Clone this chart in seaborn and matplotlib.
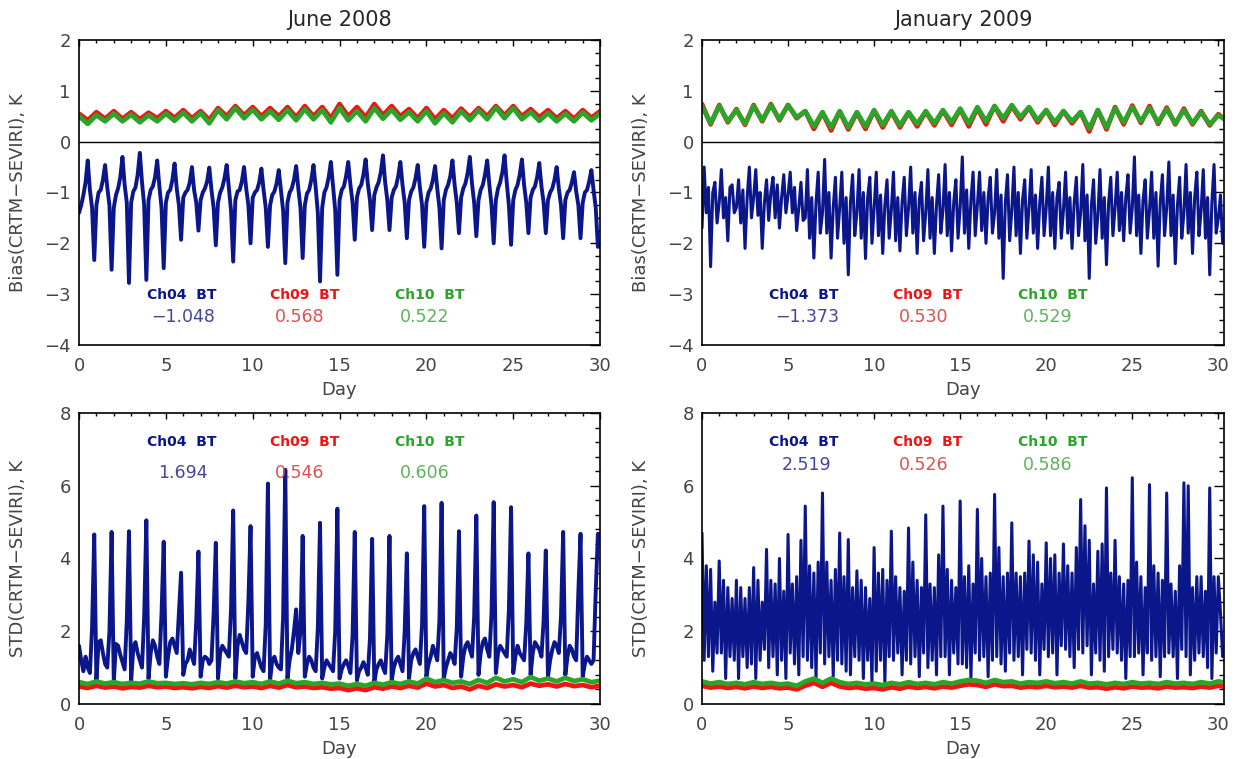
import numpy as np
import matplotlib
matplotlib.use("Agg")
import matplotlib.pyplot as plt
from matplotlib.ticker import MultipleLocator
import seaborn as sns

# Ch04 read every 3 h, Ch09/Ch10 every 12 h (values estimated from the figure)
ch04_step = 0.125
ch0910_step = 0.5

months = ["June 2008", "January 2009"]
channels = ["Ch04  BT", "Ch09  BT", "Ch10  BT"]
jun_bias_mean = ["\u22121.048", "0.568", "0.522"]
jan_bias_mean = ["\u22121.373", "0.530", "0.529"]
jun_std_mean = ["1.694", "0.546", "0.606"]
jan_std_mean = ["2.519", "0.526", "0.586"]

jun_bias_ch04 = [
    -1.40, -1.25, -1.05, -0.80, -0.37, -0.95, -1.30, -2.33,
    -1.25, -1.00, -0.95, -0.75, -0.46, -0.90, -1.25, -2.52,
    -1.30, -1.05, -0.92, -0.70, -0.30, -0.85, -1.20, -2.78,
    -1.20, -0.98, -0.90, -0.65, -0.22, -0.80, -1.25, -2.72,
    -1.15, -0.95, -0.88, -0.70, -0.37, -0.88, -1.30, -2.49,
    -1.20, -1.00, -0.95, -0.75, -0.43, -0.92, -1.25, -1.93,
    -1.10, -1.00, -0.95, -0.80, -0.50, -0.95, -1.20, -1.75,
    -1.15, -1.00, -0.92, -0.78, -0.51, -0.95, -1.30, -2.04,
    -1.20, -1.00, -0.90, -0.72, -0.46, -0.90, -1.35, -2.36,
    -1.15, -0.98, -0.95, -0.78, -0.50, -0.92, -1.25, -2.00,
    -1.10, -1.00, -0.95, -0.80, -0.53, -0.95, -1.30, -2.07,
    -1.25, -1.05, -0.98, -0.82, -0.56, -0.95, -1.35, -2.39,
    -1.20, -1.00, -0.92, -0.75, -0.48, -0.92, -1.30, -2.29,
    -1.25, -1.02, -0.95, -0.75, -0.46, -0.90, -1.40, -2.75,
    -1.30, -1.00, -0.90, -0.70, -0.40, -0.88, -1.35, -2.62,
    -1.15, -0.95, -0.88, -0.68, -0.40, -0.85, -1.20, -1.93,
    -1.10, -0.92, -0.85, -0.65, -0.35, -0.82, -1.15, -1.74,
    -1.05, -0.90, -0.80, -0.60, -0.27, -0.80, -1.15, -1.74,
    -1.10, -0.95, -0.88, -0.68, -0.40, -0.85, -1.20, -1.90,
    -1.15, -0.98, -0.90, -0.72, -0.46, -0.90, -1.25, -2.07,
    -1.20, -1.00, -0.92, -0.75, -0.48, -0.92, -1.30, -2.10,
    -1.15, -0.95, -0.85, -0.68, -0.37, -0.85, -1.20, -1.80,
    -1.10, -0.92, -0.82, -0.62, -0.30, -0.82, -1.20, -1.86,
    -1.15, -0.95, -0.85, -0.65, -0.37, -0.85, -1.25, -2.00,
    -1.15, -0.92, -0.80, -0.60, -0.27, -0.80, -1.25, -2.03,
    -1.15, -0.95, -0.85, -0.65, -0.35, -0.85, -1.20, -1.80,
    -1.10, -0.95, -0.88, -0.70, -0.42, -0.88, -1.20, -1.80,
    -1.15, -1.00, -0.92, -0.75, -0.50, -0.92, -1.25, -1.90,
    -1.15, -1.00, -0.95, -0.80, -0.60, -0.98, -1.25, -1.90,
    -1.20, -1.00, -0.95, -0.78, -0.56, -0.95, -1.30, -2.07,
    -2.05,
]
jun_bias_ch09 = [
    0.55, 0.42, 0.58, 0.45, 0.60, 0.45, 0.58, 0.44, 0.57, 0.46,
    0.60, 0.47, 0.62, 0.46, 0.60, 0.43, 0.66, 0.50, 0.70, 0.52,
    0.68, 0.50, 0.66, 0.50, 0.68, 0.48, 0.70, 0.50, 0.68, 0.46,
    0.74, 0.50, 0.68, 0.48, 0.74, 0.52, 0.70, 0.50, 0.64, 0.46,
    0.66, 0.44, 0.62, 0.46, 0.65, 0.48, 0.66, 0.50, 0.70, 0.52,
    0.70, 0.50, 0.64, 0.48, 0.62, 0.46, 0.60, 0.45, 0.62, 0.47,
    0.60,
]
jun_bias_ch10 = [
    0.50, 0.35, 0.52, 0.40, 0.55, 0.40, 0.53, 0.38, 0.52, 0.40,
    0.55, 0.41, 0.57, 0.40, 0.56, 0.36, 0.62, 0.44, 0.66, 0.46,
    0.63, 0.44, 0.60, 0.43, 0.62, 0.42, 0.64, 0.44, 0.62, 0.38,
    0.66, 0.42, 0.60, 0.40, 0.66, 0.45, 0.63, 0.43, 0.58, 0.40,
    0.60, 0.36, 0.56, 0.38, 0.60, 0.42, 0.62, 0.44, 0.67, 0.46,
    0.66, 0.44, 0.58, 0.41, 0.56, 0.40, 0.55, 0.40, 0.57, 0.42,
    0.55,
]

jan_bias_ch04 = [
    -1.70, -0.50, -1.40, -0.90, -2.46, -1.00, -0.80, -1.60,
    -1.20, -0.55, -1.50, -1.10, -1.95, -0.90, -0.85, -1.40,
    -1.30, -0.75, -1.60, -0.95, -2.10, -1.10, -0.50, -1.50,
    -1.10, -0.55, -1.45, -1.00, -2.10, -1.20, -0.75, -1.55,
    -1.00, -0.70, -1.50, -0.85, -1.70, -1.10, -0.65, -1.40,
    -1.05, -0.60, -1.40, -0.90, -1.75, -1.30, -0.80, -1.55,
    -1.50, -0.55, -1.90, -1.10, -2.29, -1.20, -0.60, -1.80,
    -1.40, -0.35, -1.80, -1.00, -2.29, -1.30, -0.70, -1.90,
    -1.30, -0.60, -2.00, -1.10, -2.62, -1.20, -0.65, -1.85,
    -1.40, -0.55, -1.90, -1.00, -2.30, -1.10, -0.70, -2.00,
    -1.30, -0.60, -1.85, -1.05, -2.20, -1.25, -0.75, -1.90,
    -1.35, -0.60, -1.95, -1.10, -2.15, -1.20, -0.70, -1.85,
    -1.30, -0.50, -1.80, -1.00, -2.20, -1.15, -0.80, -1.95,
    -1.40, -0.55, -1.90, -1.10, -2.20, -1.25, -0.65, -1.80,
    -1.35, -0.45, -1.85, -1.00, -2.15, -1.20, -0.75, -1.90,
    -1.30, -0.30, -1.80, -0.95, -2.10, -1.15, -0.60, -1.85,
    -1.25, -0.60, -1.75, -1.00, -2.00, -1.10, -0.70, -1.80,
    -1.40, -0.55, -1.90, -1.05, -2.69, -1.20, -0.65, -1.95,
    -1.35, -0.50, -1.85, -1.00, -2.20, -1.15, -0.75, -1.90,
    -1.30, -0.55, -1.80, -1.05, -2.10, -1.20, -0.70, -1.85,
    -1.30, -0.50, -1.85, -1.00, -2.10, -1.10, -0.80, -1.90,
    -1.35, -0.60, -1.80, -1.10, -2.10, -1.20, -0.70, -1.85,
    -1.40, -0.45, -1.95, -1.05, -2.69, -1.25, -0.75, -2.00,
    -1.45, -0.55, -1.90, -1.10, -2.42, -1.20, -0.70, -1.85,
    -1.30, -0.60, -1.75, -1.00, -1.95, -1.10, -0.65, -1.80,
    -1.30, -0.30, -1.85, -1.05, -2.20, -1.15, -0.75, -1.90,
    -1.35, -0.60, -1.90, -1.00, -2.45, -1.20, -0.65, -1.85,
    -1.30, -0.40, -1.85, -1.05, -2.40, -1.25, -0.70, -1.90,
    -1.40, -0.45, -1.80, -1.00, -2.20, -1.10, -0.60, -1.85,
    -1.35, -0.55, -1.90, -1.10, -2.62, -1.20, -0.45, -1.80,
    -1.50, -1.05, -2.00,
]
jan_bias_ch09 = [
    0.74, 0.34, 0.72, 0.38, 0.64, 0.33, 0.72, 0.40, 0.74, 0.42,
    0.72, 0.46, 0.60, 0.25, 0.57, 0.22, 0.59, 0.24, 0.57, 0.25,
    0.61, 0.28, 0.59, 0.28, 0.57, 0.30, 0.59, 0.32, 0.61, 0.33,
    0.64, 0.30, 0.66, 0.34, 0.70, 0.40, 0.70, 0.44, 0.67, 0.38,
    0.62, 0.33, 0.60, 0.36, 0.58, 0.20, 0.62, 0.24, 0.68, 0.34,
    0.71, 0.37, 0.70, 0.35, 0.67, 0.34, 0.65, 0.34, 0.60, 0.32,
    0.54, 0.40,
]
jan_bias_ch10 = [
    0.70, 0.36, 0.70, 0.40, 0.62, 0.35, 0.70, 0.42, 0.72, 0.44,
    0.72, 0.48, 0.60, 0.30, 0.58, 0.28, 0.60, 0.28, 0.58, 0.30,
    0.62, 0.33, 0.60, 0.32, 0.58, 0.35, 0.60, 0.36, 0.62, 0.38,
    0.65, 0.36, 0.68, 0.40, 0.70, 0.46, 0.72, 0.48, 0.68, 0.42,
    0.62, 0.38, 0.60, 0.40, 0.58, 0.26, 0.62, 0.28, 0.66, 0.38,
    0.68, 0.40, 0.66, 0.38, 0.64, 0.36, 0.62, 0.36, 0.58, 0.34,
    0.52, 0.42,
]

jun_std_ch04 = [
    1.60, 1.20, 0.90, 1.30, 1.00, 0.85, 2.10, 4.66,
    0.65, 1.70, 1.75, 1.40, 1.10, 1.00, 2.00, 4.73,
    0.60, 1.65, 1.60, 1.35, 1.15, 0.95, 2.30, 4.75,
    0.62, 1.55, 1.70, 1.40, 1.20, 1.00, 2.40, 5.05,
    0.70, 1.40, 1.75, 1.60, 1.30, 1.10, 2.50, 4.46,
    0.75, 1.30, 1.70, 1.80, 1.60, 1.40, 2.50, 3.61,
    0.80, 1.10, 1.20, 1.50, 1.30, 1.10, 2.30, 4.19,
    0.75, 1.20, 1.30, 1.25, 1.10, 1.20, 2.50, 4.43,
    0.70, 1.40, 1.60, 1.50, 1.40, 1.30, 2.60, 5.32,
    0.70, 1.60, 1.90, 1.70, 1.50, 1.40, 2.80, 4.89,
    0.75, 1.30, 1.40, 1.20, 1.00, 0.90, 2.20, 6.06,
    0.65, 1.20, 1.30, 1.10, 1.00, 0.95, 2.40, 6.44,
    0.70, 1.20, 1.50, 2.00, 2.60, 1.40, 2.00, 4.62,
    0.75, 1.10, 1.30, 1.20, 1.00, 0.90, 2.10, 4.98,
    0.70, 1.00, 1.20, 1.10, 1.00, 0.90, 2.00, 5.37,
    0.70, 0.95, 1.10, 1.20, 1.05, 0.85, 1.90, 4.73,
    0.65, 0.90, 1.00, 1.15, 1.00, 0.80, 1.80, 4.54,
    0.60, 0.95, 1.10, 1.20, 1.00, 0.85, 1.90, 4.62,
    0.65, 1.00, 1.20, 1.30, 1.10, 0.90, 2.00, 4.14,
    0.70, 1.20, 1.40, 1.50, 1.30, 1.10, 2.20, 5.44,
    0.75, 1.10, 1.30, 1.60, 1.40, 1.20, 2.30, 5.53,
    0.70, 1.00, 1.20, 1.40, 1.30, 1.10, 2.10, 4.75,
    0.75, 1.30, 1.60, 1.70, 1.50, 1.30, 2.40, 5.18,
    0.80, 1.40, 1.70, 1.80, 1.50, 1.30, 2.50, 5.55,
    0.85, 1.40, 1.60, 1.50, 1.40, 1.30, 2.60, 5.41,
    0.85, 1.30, 1.60, 1.40, 1.30, 1.20, 2.20, 4.14,
    0.80, 1.40, 1.70, 1.60, 1.50, 1.30, 2.30, 4.22,
    0.75, 1.20, 1.50, 1.70, 1.60, 1.40, 2.40, 4.73,
    0.80, 1.30, 1.60, 1.50, 1.30, 1.20, 3.10, 4.68,
    0.75, 1.10, 1.30, 1.20, 1.10, 1.20, 3.10, 4.68,
    4.65,
]
jun_std_ch09 = [
    0.48, 0.44, 0.50, 0.45, 0.48, 0.43, 0.47, 0.45, 0.50, 0.46,
    0.48, 0.44, 0.46, 0.43, 0.47, 0.44, 0.49, 0.45, 0.50, 0.46,
    0.48, 0.44, 0.50, 0.45, 0.52, 0.46, 0.48, 0.44, 0.46, 0.42,
    0.44, 0.38, 0.43, 0.38, 0.46, 0.42, 0.48, 0.44, 0.50, 0.45,
    0.56, 0.48, 0.52, 0.44, 0.48, 0.40, 0.50, 0.44, 0.54, 0.48,
    0.52, 0.46, 0.56, 0.50, 0.54, 0.48, 0.55, 0.49, 0.52, 0.46,
    0.50,
]
jun_std_ch10 = [
    0.60, 0.55, 0.62, 0.56, 0.60, 0.55, 0.58, 0.56, 0.62, 0.57,
    0.58, 0.55, 0.57, 0.54, 0.58, 0.55, 0.60, 0.56, 0.62, 0.57,
    0.60, 0.55, 0.62, 0.56, 0.64, 0.57, 0.60, 0.55, 0.58, 0.54,
    0.56, 0.50, 0.55, 0.50, 0.58, 0.53, 0.60, 0.55, 0.62, 0.56,
    0.70, 0.60, 0.66, 0.58, 0.62, 0.55, 0.66, 0.58, 0.72, 0.62,
    0.68, 0.60, 0.74, 0.64, 0.70, 0.62, 0.72, 0.63, 0.68, 0.60,
    0.64,
]

jan_std_ch04 = [
    4.70, 1.20, 3.80, 1.30, 3.70, 0.90, 2.80, 1.40,
    3.93, 1.40, 3.40, 0.70, 3.20, 1.30, 2.90, 1.20,
    3.40, 0.70, 3.20, 1.30, 2.90, 1.00, 3.20, 1.10,
    3.75, 0.70, 3.40, 1.20, 2.80, 1.50, 4.25, 1.00,
    3.40, 1.30, 3.30, 0.80, 4.00, 1.20, 3.10, 0.70,
    4.66, 1.40, 3.30, 1.10, 3.50, 0.80, 4.50, 1.30,
    5.44, 1.20, 3.80, 1.00, 3.60, 0.70, 3.90, 1.40,
    5.80, 1.10, 3.90, 1.30, 3.40, 0.75, 3.70, 1.20,
    4.70, 1.10, 3.50, 0.90, 4.52, 0.80, 3.20, 1.30,
    3.66, 1.20, 3.40, 0.70, 3.20, 1.20, 2.90, 0.60,
    4.30, 0.90, 3.60, 1.20, 3.70, 0.60, 3.40, 1.30,
    4.75, 1.20, 3.50, 1.40, 3.20, 0.80, 3.10, 1.20,
    4.84, 1.10, 3.90, 1.30, 3.40, 0.75, 3.20, 1.40,
    5.20, 1.00, 3.30, 1.20, 3.20, 0.80, 4.10, 1.30,
    5.44, 1.30, 3.70, 0.80, 3.40, 1.40, 3.20, 1.10,
    5.58, 1.10, 3.50, 1.00, 3.80, 0.70, 3.30, 1.40,
    5.35, 1.20, 4.00, 1.30, 3.50, 0.75, 3.60, 1.20,
    5.76, 1.30, 4.30, 1.10, 3.50, 0.90, 3.60, 1.40,
    4.98, 1.20, 3.60, 1.30, 3.50, 0.80, 3.60, 1.50,
    4.48, 1.40, 4.10, 1.20, 3.90, 0.80, 3.30, 1.50,
    4.43, 1.30, 4.00, 1.40, 4.10, 0.80, 3.60, 1.60,
    4.40, 1.50, 3.80, 1.30, 3.60, 1.00, 4.30, 1.50,
    5.62, 1.40, 4.90, 1.60, 4.50, 0.80, 3.30, 1.40,
    4.20, 1.20, 4.40, 0.90, 5.94, 1.30, 3.60, 1.50,
    4.50, 1.40, 3.50, 1.20, 3.30, 0.70, 3.40, 1.30,
    6.22, 1.30, 3.90, 1.40, 3.50, 0.80, 3.20, 1.40,
    6.03, 1.20, 3.80, 1.30, 3.60, 0.75, 3.40, 1.30,
    5.80, 1.40, 3.30, 1.30, 3.10, 0.70, 3.80, 1.50,
    6.08, 1.30, 6.00, 0.80, 3.20, 1.20, 3.50, 1.40,
    3.50, 1.30, 3.10, 1.00, 5.94, 0.70, 3.50, 1.40,
    3.50, 2.50, 1.30,
]
jan_std_ch09 = [
    0.50, 0.45, 0.48, 0.44, 0.47, 0.43, 0.48, 0.44, 0.47, 0.43,
    0.45, 0.40, 0.50, 0.58, 0.47, 0.58, 0.48, 0.44, 0.46, 0.42,
    0.44, 0.40, 0.46, 0.42, 0.48, 0.44, 0.47, 0.43, 0.48, 0.45,
    0.50, 0.54, 0.52, 0.47, 0.54, 0.49, 0.50, 0.45, 0.48, 0.46,
    0.50, 0.46, 0.48, 0.45, 0.50, 0.45, 0.46, 0.42, 0.46, 0.43,
    0.48, 0.45, 0.46, 0.43, 0.48, 0.45, 0.46, 0.44, 0.48, 0.45,
    0.50, 0.46,
]
jan_std_ch10 = [
    0.62, 0.56, 0.60, 0.55, 0.58, 0.54, 0.60, 0.55, 0.58, 0.54,
    0.56, 0.50, 0.62, 0.70, 0.58, 0.70, 0.60, 0.55, 0.58, 0.54,
    0.56, 0.52, 0.58, 0.54, 0.60, 0.55, 0.58, 0.54, 0.60, 0.56,
    0.62, 0.66, 0.64, 0.58, 0.66, 0.60, 0.62, 0.56, 0.60, 0.58,
    0.62, 0.57, 0.60, 0.56, 0.62, 0.56, 0.58, 0.54, 0.58, 0.55,
    0.60, 0.56, 0.58, 0.55, 0.60, 0.56, 0.58, 0.55, 0.60, 0.56,
    0.62, 0.58,
]

blue = "#0b168a"
red = "#f01414"
green = "#2aa52a"
label_colors = [blue, red, green]
mean_colors = ["#45459a", "#e05050", "#5cb35c"]
grey = "#444444"

sns.set_style("white")
plt.rcParams["font.family"] = ["DejaVu Sans"]
plt.rcParams["axes.unicode_minus"] = True

fig = plt.figure(figsize=(12.37, 7.59), dpi=100)
ax_jun_bias = fig.add_axes([0.0639, 0.5455, 0.4212, 0.4018])
ax_jan_bias = fig.add_axes([0.5675, 0.5455, 0.4220, 0.4018])
ax_jun_std = fig.add_axes([0.0639, 0.0725, 0.4212, 0.3834])
ax_jan_std = fig.add_axes([0.5675, 0.0725, 0.4220, 0.3834])


def draw_panel(ax, ch04, ch09, ch10, xmax, ylim, ymajor, yminor, ylabel,
               means, label_x, mean_x, label_y, mean_y, xlabel_y, lw04):
    x04 = np.arange(len(ch04)) * ch04_step
    x0910 = np.arange(len(ch09)) * ch0910_step
    sns.lineplot(x=x04, y=ch04, ax=ax, color=blue, linewidth=lw04,
                 sort=False, estimator=None)
    sns.lineplot(x=x0910, y=ch09, ax=ax, color=red, linewidth=3.4,
                 sort=False, estimator=None)
    sns.lineplot(x=x0910, y=ch10, ax=ax, color=green, linewidth=3.4,
                 sort=False, estimator=None)
    ax.set_xlim(0, xmax)
    ax.set_ylim(*ylim)
    ax.xaxis.set_major_locator(MultipleLocator(5))
    ax.xaxis.set_minor_locator(MultipleLocator(1))
    ax.yaxis.set_major_locator(MultipleLocator(ymajor))
    ax.yaxis.set_minor_locator(MultipleLocator(yminor))
    ax.tick_params(which="both", direction="in", top=True, right=True,
                   labelsize=13, labelcolor=grey, color="k", width=1)
    ax.tick_params(axis="x", which="major", length=4.5, pad=9)
    ax.tick_params(axis="x", which="minor", length=2.3)
    ax.tick_params(axis="y", which="major", length=7.5, pad=6)
    ax.tick_params(axis="y", which="minor", length=3.8)
    for sp in ax.spines.values():
        sp.set_color("k")
        sp.set_linewidth(1.2)
    ax.set_xlabel("Day", fontsize=13, color=grey)
    ax.xaxis.set_label_coords(0.5, xlabel_y)
    ax.set_ylabel(ylabel, fontsize=13, color=grey)
    ax.yaxis.set_label_coords(-0.10, 0.5)
    for i in range(3):
        ax.text(label_x[i], label_y, channels[i], color=label_colors[i],
                fontsize=10, fontweight="bold", ha="center", va="center")
        ax.text(mean_x[i], mean_y, means[i], color=mean_colors[i],
                fontsize=12.5, ha="center", va="center")


draw_panel(ax_jun_bias, jun_bias_ch04, jun_bias_ch09, jun_bias_ch10, 30,
           (-4, 2), 1, 0.25, "Bias(CRTM\u2212SEVIRI), K", jun_bias_mean,
           [5.9, 13.0, 20.2], [6.0, 12.7, 19.9], -3.02, -3.45, -0.118, 2.8)
draw_panel(ax_jan_bias, jan_bias_ch04, jan_bias_ch09, jan_bias_ch10, 30.33,
           (-4, 2), 1, 0.25, "Bias(CRTM\u2212SEVIRI), K", jan_bias_mean,
           [5.9, 13.1, 20.4], [6.1, 12.9, 20.1], -3.02, -3.45, -0.118, 2.2)
draw_panel(ax_jun_std, jun_std_ch04, jun_std_ch09, jun_std_ch10, 30,
           (0, 8), 2, 0.4, "STD(CRTM\u2212SEVIRI), K", jun_std_mean,
           [5.9, 13.0, 20.2], [6.0, 12.7, 19.9], 7.21, 6.36, -0.124, 2.8)
draw_panel(ax_jan_std, jan_std_ch04, jan_std_ch09, jan_std_ch10, 30.33,
           (0, 8), 2, 0.4, "STD(CRTM\u2212SEVIRI), K", jan_std_mean,
           [5.9, 13.1, 20.4], [6.1, 12.9, 20.1], 7.21, 6.58, -0.124, 2.2)

for ax in (ax_jun_bias, ax_jan_bias):
    ax.axhline(0, color="k", linewidth=1.0)
ax_jun_bias.set_title(months[0], fontsize=15, pad=10)
ax_jan_bias.set_title(months[1], fontsize=15, pad=10)

fig.savefig("out.png", dpi=100)
